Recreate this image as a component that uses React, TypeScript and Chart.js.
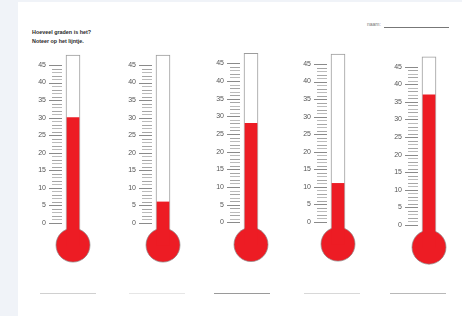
import React, { useEffect, useRef } from "react";
import { Chart, registerables } from "chart.js";

Chart.register(...registerables);

// ---- data ----
const categories = ["1", "2", "3", "4", "5"];
const temperatures = [30, 6, 28, 11, 37];
const tickLabels = [0, 5, 10, 15, 20, 25, 30, 35, 40, 45];
const scaleMin = 0;
const scaleMax = 45;
const tubeTop = 47.8;
const bulbCenter = -6.3;
const bulbRadius = 17;

// ---- layout (pixel geometry of each thermometer on the sheet) ----
const LAYOUT = [
  { cx: 73.3, y0: 223, y45: 65, line: [40, 96], lineColor: "#d0d0d0" },
  { cx: 163.3, y0: 223, y45: 65, line: [129, 185], lineColor: "#e6e6e6" },
  { cx: 251.3, y0: 222.3, y45: 63.3, line: [214, 270], lineColor: "#9a9a9a" },
  { cx: 337.5, y0: 222, y45: 64, line: [304, 360], lineColor: "#d8d8d8" },
  { cx: 429.3, y0: 225, y45: 66.7, line: [390, 446], lineColor: "#b8b8b8" },
];

const AXIS_W = 30;
const CANVAS_W = 80;
const RED = "#ed1c24";

const tickMarks = {
  id: "tickMarks",
  afterDatasetsDraw(chart: any) {
    const ys = chart.scales.y;
    const xs = chart.scales.x;
    const cx = xs.getPixelForValue(0);
    const ctx = chart.ctx;
    ctx.save();
    ctx.lineWidth = 1;
    for (let v = scaleMin; v <= scaleMax; v++) {
      const py = Math.round(ys.getPixelForValue(v)) + 0.5;
      const major = v % 5 === 0;
      ctx.strokeStyle = major ? "#8a8a8a" : v % 2 === 0 ? "#a6a6a6" : "#bcbcbc";
      ctx.beginPath();
      ctx.moveTo(Math.round(cx - (major ? 24.5 : 21.5)), py);
      ctx.lineTo(Math.round(cx - 11), py);
      ctx.stroke();
    }
    ctx.restore();
  },
};

function Thermometer({ index }: { index: number }) {
  const ref = useRef<HTMLCanvasElement | null>(null);
  const g = LAYOUT[index];
  const ppu = (g.y0 - g.y45) / 45;
  const top = Math.floor(g.y45 - 4 * ppu);
  const height = Math.ceil(63 * ppu);
  const yMax = 45 + (g.y45 - top) / ppu;
  const yMin = -((top + height - g.y0) / ppu);
  const left = Math.round(g.cx - (AXIS_W + (CANVAS_W - AXIS_W) / 2));

  useEffect(() => {
    if (!ref.current) return;
    const label = categories[index];
    const chart = new Chart(ref.current, {
      type: "bar",
      data: {
        labels: [label],
        datasets: [
          {
            type: "bar",
            data: [[bulbCenter, temperatures[index]]] as any,
            backgroundColor: RED,
            borderWidth: 0,
            barThickness: 12,
            grouped: false,
            order: 0,
          } as any,
          {
            type: "bubble",
            data: [{ x: label, y: bulbCenter, r: bulbRadius }] as any,
            backgroundColor: RED,
            borderColor: "rgba(140,140,140,0.7)",
            borderWidth: 1,
            clip: false,
            order: 1,
          } as any,
          {
            type: "bar",
            data: [[bulbCenter, tubeTop]] as any,
            backgroundColor: "#ffffff",
            borderColor: "#9c9c9c",
            borderWidth: 1,
            barThickness: 14,
            grouped: false,
            order: 2,
          } as any,
        ],
      },
      options: {
        animation: false,
        responsive: true,
        maintainAspectRatio: false,
        events: [],
        layout: { padding: 0, autoPadding: false },
        plugins: { legend: { display: false }, tooltip: { enabled: false } },
        scales: {
          x: { display: false, offset: true },
          y: {
            min: yMin,
            max: yMax,
            afterFit: (s: any) => {
              s.width = AXIS_W;
              s.paddingTop = 0;
              s.paddingBottom = 0;
              s.paddingLeft = 0;
              s.paddingRight = 0;
            },
            grid: { display: false, drawTicks: false },
            border: { display: false },
            ticks: {
              stepSize: 5,
              autoSkip: false,
              padding: 2,
              color: "#555555",
              font: { family: "'Liberation Sans', Arial, sans-serif", size: 7 },
              callback: (v: any) => (tickLabels.includes(v) ? String(v) : null),
            },
          },
        },
      } as any,
      plugins: [tickMarks],
    });
    return () => chart.destroy();
  }, [index]);

  return (
    <div style={{ position: "absolute", left, top, width: CANVAS_W, height }}>
      <canvas ref={ref} />
    </div>
  );
}

export default function App() {
  return (
    <div
      style={{
        position: "absolute",
        left: 0,
        top: 0,
        width: 462,
        height: 316,
        background: "#f0f3f8",
        overflow: "hidden",
      }}
    >
      <div
        style={{
          position: "absolute",
          left: 18,
          top: 2,
          width: 444,
          height: 314,
          background: "#ffffff",
        }}
      />
      <div
        style={{
          position: "absolute",
          left: 32,
          top: 27.5,
          fontFamily: "'Liberation Sans', Arial, sans-serif",
          fontWeight: "bold",
          fontSize: 5.4,
          lineHeight: "9px",
          color: "#2a2a2a",
          whiteSpace: "nowrap",
        }}
      >
        <div>Hoeveel graden is het?</div>
        <div>Noteer op het lijntje.</div>
      </div>
      <div
        style={{
          position: "absolute",
          left: 367,
          top: 21,
          fontFamily: "'Liberation Sans', Arial, sans-serif",
          fontSize: 5,
          color: "#777",
        }}
      >
        naam:
      </div>
      <div
        style={{
          position: "absolute",
          left: 384,
          top: 27,
          width: 65,
          height: 1,
          background: "#777",
        }}
      />
      {LAYOUT.map((g, i) => (
        <div
          key={"l" + i}
          style={{
            position: "absolute",
            left: g.line[0],
            top: 293,
            width: g.line[1] - g.line[0],
            height: 1,
            background: g.lineColor,
          }}
        />
      ))}
      {categories.map((c, i) => (
        <Thermometer key={c} index={i} />
      ))}
    </div>
  );
}
